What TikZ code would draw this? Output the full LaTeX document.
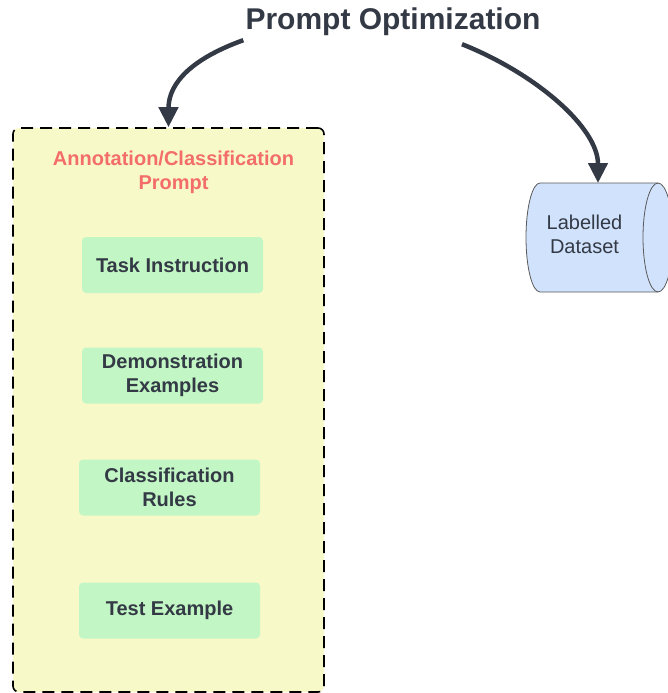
\documentclass[tikz,border=0pt]{standalone}
\usepackage{fontspec}
\setmainfont{Liberation Sans}
\usetikzlibrary{
    shapes.geometric,
    arrows.meta,
    positioning
}
\definecolor{panelyellow}{HTML}{F8F9C8}
\definecolor{boxgreen}{HTML}{C3F6C5}
\definecolor{dbblue}{HTML}{D1E2FC}
\definecolor{inkdark}{HTML}{333A45}
\definecolor{headred}{HTML}{F26D6B}

\begin{document}
\begin{tikzpicture}[
        x=1pt, y=-1pt,
        panel/.style={rectangle, draw=black, line width=1.6pt, dash pattern=on 12pt off 7pt, rounded corners=6pt, fill=panelyellow, minimum width=311pt, minimum height=564pt},
        box/.style={rectangle, rounded corners=4pt, fill=boxgreen, minimum width=181pt, minimum height=56pt, align=center, text=inkdark, font=\fontsize{20}{24}\selectfont\bfseries},
        dbline/.style={draw=black!65, line width=0.8pt},
        dbtext/.style={align=center, text=inkdark, font=\fontsize{20}{24}\selectfont},
        arrow/.style={-{Triangle[length=20pt, width=19pt]}, line width=4.5pt, draw=inkdark}
    ]
        \useasboundingbox (0,0) rectangle (668,693);

        \node[text=inkdark, font=\fontsize{30}{36}\selectfont\bfseries, inner sep=0pt] (title) at (393,22) {Prompt Optimization};

        \node[panel] (prompt) at (168.5,410) {};
        \node[text=headred, align=center, font=\fontsize{20}{24}\selectfont\bfseries] (prompthead) at (173.5,172) {Annotation/Classification\\Prompt};

        \node[box] (task) at (172.5,265) {Task Instruction};
        \node[box] (demo) at (172.5,375.5) {Demonstration\\Examples};
        \node[box] (rules) at (169.5,487.5) {Classification\\Rules};
        \node[box] (test) at (169.5,610.5) {Test Example};

        % labelled dataset drum
        \draw[dbline, fill=dbblue] (540,183) -- (658,183)
            arc[start angle=90, end angle=-90, x radius=15pt, y radius=54.5pt]
            -- (540,292)
            arc[start angle=270, end angle=90, x radius=14pt, y radius=54.5pt] -- cycle;
        \draw[dbline] (658,183) arc[start angle=90, end angle=270, x radius=15pt, y radius=54.5pt];
        \coordinate (datatop) at (598,183);
        \node[dbtext] (data) at (584.5,234.5) {Labelled\\Dataset};

        \draw[arrow] ([xshift=-2pt, yshift=-4pt]title.south west) .. controls +(-50,18) and +(0,-45) .. (prompt.north);
        \draw[arrow] ([xshift=69pt, yshift=-8pt]title.south) .. controls +(75,30) and +(0,-55) .. (datatop);
    \end{tikzpicture}
\end{document}
